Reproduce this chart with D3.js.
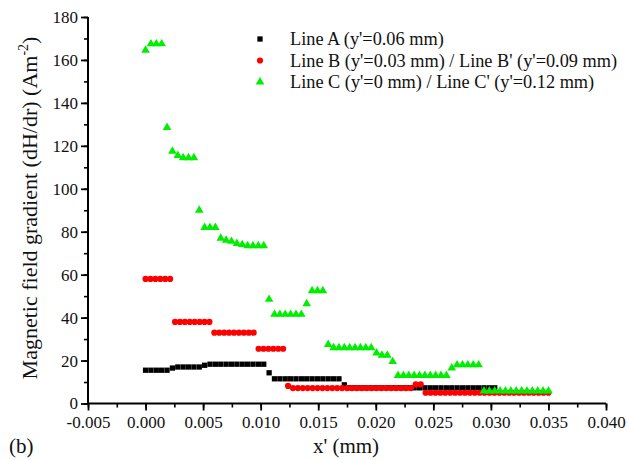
<!DOCTYPE html>
<html>
<head>
<meta charset="utf-8">
<script src="https://cdn.jsdelivr.net/npm/d3@7"></script>
<style>
  body { margin: 0; background: #fff; }
  svg text { font-family: "Liberation Serif", "Times New Roman", serif; }
</style>
</head>
<body>
<svg id="chart" width="628" height="460"></svg>
<script>
// sampling steps along x' (mm) for each line
const stepA = 0.035 / 75
const stepB = 0.035 / 82
const stepC = 0.035 / 75

// Line A (y'=0.06 mm)
const lineA = [
  15.5, 15.5, 15.5, 15.5, 15.5, 16.5, 17.0, 17.0, 17.0, 17.0,
  17.0, 17.8, 18.3, 18.3, 18.3, 18.3, 18.3, 18.3, 18.3, 18.3,
  18.3, 18.3, 18.3, 14.3, 11.5, 11.5, 11.5, 11.5, 11.5, 11.5,
  11.5, 11.5, 11.5, 11.5, 11.5, 11.5, 11.5, 8.7, 7.3, 7.3,
  7.3, 7.3, 7.3, 7.3, 7.3, 7.3, 7.3, 7.3, 7.3, 7.3,
  7.3, 7.3, 7.3, 7.3, 7.3, 7.3, 7.3, 7.3, 7.3, 7.3,
  7.3, 7.3, 7.3, 7.3, 7.3, 7.3
]

// Line B (y'=0.03 mm) / Line B' (y'=0.09 mm)
const lineB = [
  58, 58, 58, 58, 58, 58, 38, 38, 38, 38,
  38, 38, 38, 38, 33, 33, 33, 33, 33, 33,
  33, 33, 33, 25.5, 25.5, 25.5, 25.5, 25.5, 25.5, 8.2,
  7.2, 7.2, 7.2, 7.2, 7.2, 7.2, 7.2, 7.2, 7.2, 7.2,
  7.2, 7.2, 7.2, 7.2, 7.2, 7.2, 7.2, 7.2, 7.2, 7.2,
  7.2, 7.2, 7.2, 7.2, 7.2, 8.9, 8.9, 5.0, 5.0, 5.0,
  5.0, 5.0, 5.0, 5.0, 5.0, 5.0, 5.0, 5.0, 5.0, 5.0,
  5.0, 5.0, 5.0, 5.0, 5.0, 5.0, 5.0, 5.0, 5.0, 5.0,
  5.0, 5.0, 5.0
]

// Line C (y'=0 mm) / Line C' (y'=0.12 mm)
const lineC = [
  164.5, 167.5, 167.5, 167.5, 128.5, 117.5, 115.5, 114.5, 114.5, 114.5,
  90, 82, 82, 82, 77, 76, 75.5, 74.5, 74, 73.5,
  73.5, 73.5, 73.5, 48.5, 41.5, 41.5, 41.5, 41.5, 41.5, 41.5,
  46.5, 52.5, 52.5, 52.5, 27.5, 26, 26, 26, 26, 26,
  26, 26, 26, 23.5, 22.5, 22.5, 19.5, 13, 13, 13,
  13, 13, 13, 13, 13, 13, 13, 16.5, 18, 18,
  18, 18, 18, 5.8, 5.8, 5.8, 5.8, 5.8, 5.8, 5.8,
  5.8, 5.8, 5.8, 5.8, 5.8, 5.8
]

const legendLabels = [
  "Line A (y'=0.06 mm)",
  "Line B (y'=0.03 mm) / Line B' (y'=0.09 mm)",
  "Line C (y'=0 mm) / Line C' (y'=0.12 mm)"
]
const colors = ['#000000', '#ff0000', '#00ee00']

const xTicks = [-0.005, 0, 0.005, 0.01, 0.015, 0.02, 0.025, 0.03, 0.035, 0.04]
const yTicks = [0, 20, 40, 60, 80, 100, 120, 140, 160, 180]

let svg = d3.select('#chart')

let x = d3.scaleLinear().domain([-0.005, 0.04]).range([88, 606])
let y = d3.scaleLinear().domain([0, 180]).range([403.5, 17])

let series = [
  { vals: lineA, step: stepA, shape: d3.symbolSquare, size: 28 },
  { vals: lineB, step: stepB, shape: d3.symbolCircle, size: 30 },
  { vals: lineC, step: stepC, shape: d3.symbolTriangle, size: 32 }
]

let fmt = d => d3.format('.3f')(d).replace('\u2212', '-')

// axes: minor ticks first, then major ticks with labels
svg.append('g')
  .attr('transform', 'translate(0,403.5)')
  .call(d3.axisBottom(x).tickValues(d3.range(-0.005, 0.0401, 0.0025)).tickSize(4).tickFormat(''))
  .call(g => g.select('.domain').remove())
  .selectAll('line').attr('stroke-width', 1.6)

let xAxis = svg.append('g')
  .attr('transform', 'translate(0,403.5)')
  .call(d3.axisBottom(x).tickValues(xTicks).tickSize(7).tickPadding(5).tickFormat(fmt))
xAxis.select('.domain').attr('stroke-width', 2).attr('d', 'M88,0H606')
xAxis.selectAll('line').attr('stroke-width', 1.8)
xAxis.selectAll('text').attr('font-size', 17).attr('fill', '#111')

svg.append('g')
  .attr('transform', 'translate(88,0)')
  .call(d3.axisLeft(y).tickValues(d3.range(0, 181, 10)).tickSize(4).tickFormat(''))
  .call(g => g.select('.domain').remove())
  .selectAll('line').attr('stroke-width', 1.6)

let yAxis = svg.append('g')
  .attr('transform', 'translate(88,0)')
  .call(d3.axisLeft(y).tickValues(yTicks).tickSize(7).tickPadding(3))
yAxis.select('.domain').attr('stroke-width', 2).attr('d', 'M0,403.5V17')
yAxis.selectAll('line').attr('stroke-width', 1.8)
yAxis.selectAll('text').attr('font-size', 17).attr('fill', '#111')

// data markers
series.forEach((s, k) => {
  svg.append('g')
    .selectAll('path')
    .data(s.vals)
    .enter()
    .append('path')
    .attr('d', d3.symbol().type(s.shape).size(s.size))
    .attr('transform', (d, i) => 'translate(' + [x(i * s.step), y(d)] + ')')
    .attr('fill', colors[k])
})

// legend
let legend = svg.append('g')
legendLabels.forEach((t, k) => {
  let ly = 39 + k * 21.5
  legend.append('path')
    .attr('d', d3.symbol().type(series[k].shape).size(series[k].size))
    .attr('transform', 'translate(' + [260, ly] + ')')
    .attr('fill', colors[k])
  legend.append('text')
    .attr('x', 290)
    .attr('y', ly + 6)
    .attr('font-size', 18.3)
    .attr('fill', '#111')
    .text(t)
})

// axis titles
let yTitle = svg.append('text')
  .attr('transform', 'translate(37,208) rotate(-90)')
  .attr('text-anchor', 'middle')
  .attr('font-size', 22)
  .attr('fill', '#111')
yTitle.append('tspan').text('Magnetic field gradient (dH/dr) (Am')
yTitle.append('tspan').attr('font-size', 14).attr('dy', -9).text('-2')
yTitle.append('tspan').attr('dy', 9).text(')')

svg.append('text')
  .attr('x', 346)
  .attr('y', 453)
  .attr('text-anchor', 'middle')
  .attr('font-size', 21)
  .attr('fill', '#111')
  .text("x' (mm)")

svg.append('text')
  .attr('x', 9)
  .attr('y', 453)
  .attr('font-size', 21)
  .attr('fill', '#111')
  .text('(b)')
</script>
</body>
</html>
